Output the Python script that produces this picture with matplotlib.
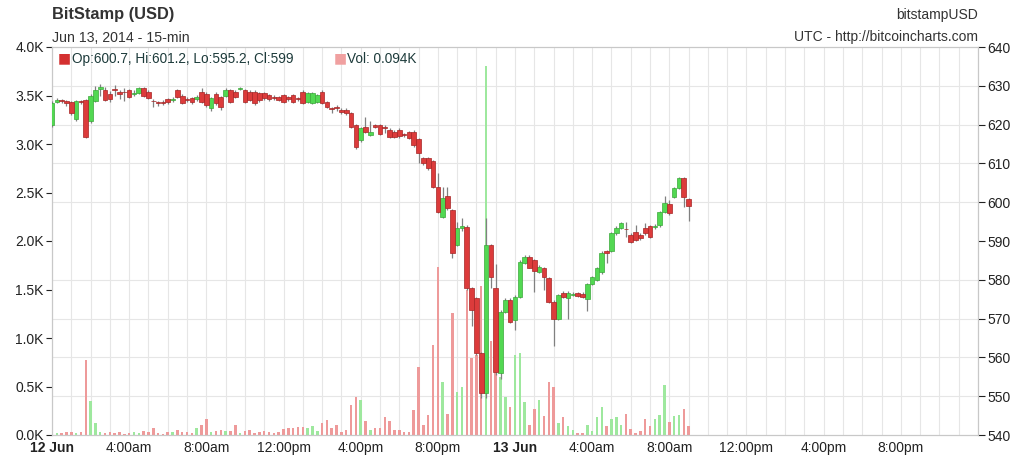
import matplotlib
matplotlib.use('Agg')
import matplotlib.pyplot as plt
from matplotlib.ticker import MultipleLocator, FixedLocator
import numpy as np

plt.rcParams['font.family'] = ['Liberation Sans', 'DejaVu Sans']

# 15-min candles from 12 Jun 00:00 (BitStamp USD)
opens = [619.9, 625.8, 626.3, 626.0, 625.7, 621.4, 626.0, 626.3, 621.0, 626.0,
         629.3, 628.9, 628.0, 629.2, 628.3, 628.5, 628.9, 628.0, 628.2, 629.5,
         628.5, 626.2, 625.8, 625.9, 626.5, 626.3, 628.9, 627.4, 626.5, 626.9,
         626.5, 628.5, 628.0, 624.2, 628.0, 627.0, 627.5, 628.9, 628.5, 629.3,
         628.9, 628.5, 628.5, 628.1, 628.1, 627.6, 627.2, 627.2, 627.6, 627.2,
         627.6, 626.8, 628.5, 625.9, 625.5, 625.9, 628.5, 625.9, 624.2, 624.6,
         623.8, 623.8, 622.9, 619.9, 616.0, 619.5, 617.3, 619.8, 619.9, 619.5,
         618.6, 618.2, 618.6, 617.5, 618.0, 618.2, 616.2, 611.3, 611.3, 610.5,
         604.0, 596.3, 601.5, 598.0, 589.0, 593.4, 593.7, 577.8, 575.3, 561.1,
         550.7, 589.0, 577.8, 556.0, 571.8, 574.8, 569.6, 575.6, 584.4, 586.0,
         585.0, 582.1, 583.0, 580.4, 574.4, 570.0, 576.6, 575.2, 576.2, 576.5,
         576.4, 575.0, 579.0, 580.0, 582.0, 587.3, 587.5, 592.0, 593.4, 593.2,
         591.5, 592.3, 591.5, 593.4, 593.8, 593.6, 594.0, 597.5, 599.5, 601.3,
         603.6, 606.2, 600.7]
highs = [626.0, 626.8, 626.5, 626.3, 626.0, 626.3, 626.4, 626.5, 628.0, 630.0,
         630.5, 629.8, 628.6, 630.3, 629.0, 629.5, 629.3, 628.8, 629.8, 629.8,
         628.8, 626.6, 626.2, 626.3, 626.8, 627.0, 629.2, 627.8, 627.0, 627.2,
         627.6, 629.5, 628.3, 627.2, 628.5, 627.5, 629.4, 629.2, 629.0, 629.8,
         629.3, 628.9, 628.8, 628.5, 628.5, 628.0, 627.6, 627.5, 628.0, 627.5,
         628.0, 627.2, 628.9, 628.5, 628.4, 628.0, 628.8, 626.2, 624.6, 625.0,
         624.2, 624.2, 623.3, 620.2, 619.5, 622.0, 621.0, 620.2, 620.2, 620.0,
         619.0, 618.6, 619.0, 617.8, 618.3, 618.5, 616.5, 611.6, 611.6, 610.8,
         607.5, 604.0, 604.0, 598.3, 595.0, 595.9, 594.0, 578.2, 575.6, 561.4,
         595.9, 589.3, 584.0, 572.2, 575.2, 575.2, 576.0, 585.0, 586.3, 586.3,
         585.4, 583.8, 583.3, 580.8, 574.8, 576.3, 577.0, 577.0, 576.8, 576.8,
         576.8, 579.3, 581.0, 583.3, 587.3, 587.6, 592.4, 593.8, 595.0, 594.8,
         592.0, 594.0, 592.0, 594.6, 594.2, 594.5, 597.8, 601.5, 600.5, 604.0,
         606.5, 606.5, 601.2]
lows = [619.5, 625.5, 625.5, 624.8, 622.5, 621.0, 625.3, 616.5, 620.5, 625.8,
        627.5, 626.0, 625.8, 627.5, 626.5, 626.0, 626.8, 627.3, 627.8, 627.0,
        626.5, 624.6, 624.8, 625.0, 625.4, 625.8, 626.8, 625.2, 625.9, 625.4,
        626.0, 625.5, 624.5, 623.5, 625.0, 623.8, 627.2, 625.5, 626.8, 628.8,
        625.5, 626.0, 625.0, 625.8, 626.3, 626.2, 626.3, 626.0, 625.5, 626.2,
        625.5, 626.2, 625.2, 625.5, 625.2, 625.5, 625.2, 624.2, 622.9, 623.5,
        622.8, 622.5, 619.2, 613.8, 615.5, 617.8, 617.0, 619.0, 617.2, 617.8,
        616.5, 616.5, 616.6, 616.9, 616.2, 614.3, 610.0, 609.6, 608.3, 603.6,
        597.2, 595.9, 598.0, 585.6, 588.6, 592.6, 577.3, 568.0, 560.7, 549.5,
        549.5, 578.0, 555.5, 554.5, 571.4, 568.8, 567.0, 575.2, 584.0, 583.0,
        576.8, 581.8, 577.4, 574.0, 563.0, 569.6, 575.2, 570.0, 575.8, 575.5,
        575.3, 572.0, 578.6, 579.6, 581.6, 584.3, 587.2, 591.6, 593.0, 591.0,
        589.4, 590.0, 590.3, 591.6, 590.7, 593.2, 593.6, 597.2, 596.8, 601.0,
        603.3, 598.8, 595.2]
closes = [625.5, 626.3, 626.0, 625.5, 622.9, 626.0, 625.8, 616.9, 627.4, 629.0,
          629.7, 626.3, 626.5, 629.0, 628.0, 628.3, 627.2, 628.2, 629.5, 627.3,
          626.8, 626.0, 625.6, 625.6, 625.8, 626.5, 627.2, 625.5, 626.4, 625.9,
          627.2, 625.9, 625.0, 626.8, 625.5, 624.6, 629.0, 625.9, 627.2, 629.4,
          625.9, 626.3, 625.5, 626.3, 626.8, 626.6, 626.8, 626.3, 625.9, 626.6,
          625.9, 626.6, 625.5, 628.1, 628.1, 627.6, 625.5, 624.6, 624.0, 624.2,
          623.3, 622.9, 619.5, 614.3, 619.0, 618.2, 618.0, 619.5, 617.6, 619.2,
          616.9, 616.9, 617.0, 617.3, 616.5, 614.7, 612.6, 610.0, 608.7, 604.0,
          597.6, 601.0, 598.4, 586.9, 593.4, 593.8, 577.8, 572.2, 561.1, 550.7,
          589.0, 580.8, 556.3, 571.8, 574.8, 569.2, 575.6, 584.7, 586.0, 583.0,
          582.2, 583.4, 580.8, 574.4, 570.0, 576.0, 575.6, 576.7, 576.4, 575.9,
          575.6, 579.0, 580.6, 583.0, 587.0, 586.8, 592.0, 593.4, 594.6, 593.0,
          589.8, 590.3, 590.7, 592.0, 591.1, 593.8, 597.5, 599.8, 597.2, 603.6,
          606.2, 601.3, 599.0]
# volume in thousands
volumes = [0.19, 0.02, 0.02, 0.03, 0.03, 0.02, 0.03, 0.77, 0.35, 0.12,
           0.03, 0.02, 0.03, 0.02, 0.03, 0.01, 0.02, 0.03, 0.02, 0.04,
           0.03, 0.07, 0.02, 0.01, 0.03, 0.03, 0.05, 0.03, 0.03, 0.02,
           0.07, 0.10, 0.16, 0.03, 0.04, 0.05, 0.04, 0.04, 0.10, 0.02,
           0.04, 0.05, 0.02, 0.03, 0.04, 0.03, 0.02, 0.03, 0.06, 0.07,
           0.07, 0.08, 0.08, 0.07, 0.09, 0.04, 0.12, 0.15, 0.07, 0.10,
           0.03, 0.05, 0.31, 0.39, 0.36, 0.14, 0.05, 0.07, 0.07, 0.19,
           0.14, 0.05, 0.05, 0.03, 0.03, 0.26, 0.70, 0.10, 0.21, 0.93,
           1.73, 0.55, 0.22, 1.26, 0.44, 0.50, 1.49, 0.79, 0.82, 1.54,
           3.80, 0.97, 0.77, 0.60, 0.39, 0.29, 0.82, 0.85, 0.34, 0.10,
           0.27, 0.36, 0.20, 0.55, 0.50, 0.12, 0.19, 0.09, 0.05, 0.02,
           0.02, 0.10, 0.04, 0.19, 0.29, 0.09, 0.17, 0.19, 0.10, 0.22,
           0.06, 0.02, 0.04, 0.17, 0.09, 0.17, 0.21, 0.52, 0.13, 0.20,
           0.21, 0.27, 0.094]

tick_labels = ['12 Jun', '4:00am', '8:00am', '12:00pm', '4:00pm', '8:00pm',
               '13 Jun', '4:00am', '8:00am', '12:00pm', '4:00pm', '8:00pm']
vol_ticks = [0.0, 0.5, 1.0, 1.5, 2.0, 2.5, 3.0, 3.5, 4.0]

o = np.array(opens); h = np.array(highs); l = np.array(lows); c = np.array(closes)
v = np.array(volumes)
t = np.arange(len(o)) * 0.25   # hours since 12 Jun 00:00
up = c >= o

fig = plt.figure(figsize=(10.24, 4.72), dpi=100)
ax = fig.add_axes([52/1024, 37/472, 926/1024, 388/472])
ax2 = ax.twinx()

# volume on left axis
ax.bar(t[up], v[up], width=0.13, color='#9ee89e', zorder=2)
ax.bar(t[~up], v[~up], width=0.13, color='#ee9a9a', zorder=2)
ax.set_ylim(0, 4)
ax.set_xlim(0, 48)

# candles on right axis
ax2.vlines(t, l, h, color='#808080', lw=0.9, zorder=3)
ax2.bar(t[up], c[up] - o[up], bottom=o[up], width=0.24, color='#52d852',
        edgecolor='#3aa83a', lw=0.5, zorder=4)
ax2.bar(t[~up], c[~up] - o[~up], bottom=o[~up], width=0.24, color='#dc3b3b',
        edgecolor='#a52424', lw=0.5, zorder=4)
ax2.set_ylim(540, 640)

# grid: hourly vertical, horizontal at price ticks (every 10 -> 0.4K)
ax.xaxis.set_major_locator(FixedLocator(np.arange(0, 48, 4)))
ax.xaxis.set_minor_locator(MultipleLocator(1))
ax.set_yticks(vol_ticks)
ax.set_yticklabels(['%.1fK' % y for y in vol_ticks])
ax.yaxis.set_minor_locator(MultipleLocator(0.4))
ax.grid(which='minor', color='#e6e6e6', lw=0.8, zorder=0)
ax.grid(which='major', axis='x', color='#e6e6e6', lw=0.8, zorder=0)
ax.set_axisbelow(True)

ax.set_xticklabels(tick_labels)
for lab in ax.get_xticklabels():
    if 'Jun' in lab.get_text():
        lab.set_fontweight('bold')
ax2.yaxis.set_major_locator(MultipleLocator(10))

ax.tick_params(axis='x', which='both', length=0, labelsize=10, colors='#222222', pad=4)
ax.tick_params(axis='y', which='major', length=4, labelsize=10, colors='#222222', pad=2)
ax.tick_params(axis='y', which='minor', length=0)
ax2.tick_params(axis='y', length=5, labelsize=10, colors='#222222', pad=2)
for a in (ax, ax2):
    for s in a.spines.values():
        s.set_color('#c8c8c8')
        s.set_linewidth(0.8)

# headers
fig.text(52/1024, 1 - 15/472, 'BitStamp (USD)', fontsize=11.8, fontweight='bold',
         color='#333333', va='center')
fig.text(52/1024, 1 - 38/472, 'Jun 13, 2014 - 15-min', fontsize=10.2,
         color='#333333', va='center')
fig.text(978/1024, 1 - 15/472, 'bitstampUSD', fontsize=10, color='#333333',
         va='center', ha='right')
fig.text(978/1024, 1 - 37/472, 'UTC - http://bitcoincharts.com', fontsize=10,
         color='#333333', va='center', ha='right')

# last candle readout
ax.text(0.006, 0.97, '\u25A0', transform=ax.transAxes, color='#d43030',
        fontsize=10, va='center', family='DejaVu Sans')
ax.text(0.022, 0.97, 'Op:%.1f, Hi:%.1f, Lo:%.1f, Cl:%g' % (o[-1], h[-1], l[-1], c[-1]),
        transform=ax.transAxes, fontsize=9.8, color='#1d3b3b', va='center')
ax.text(0.304, 0.97, '\u25A0', transform=ax.transAxes, color='#f0a0a0',
        fontsize=10, va='center', family='DejaVu Sans')
ax.text(0.319, 0.97, 'Vol: %.3fK' % v[-1], transform=ax.transAxes,
        fontsize=9.8, color='#1d3b3b', va='center')

plt.savefig('out.png', dpi=100)
